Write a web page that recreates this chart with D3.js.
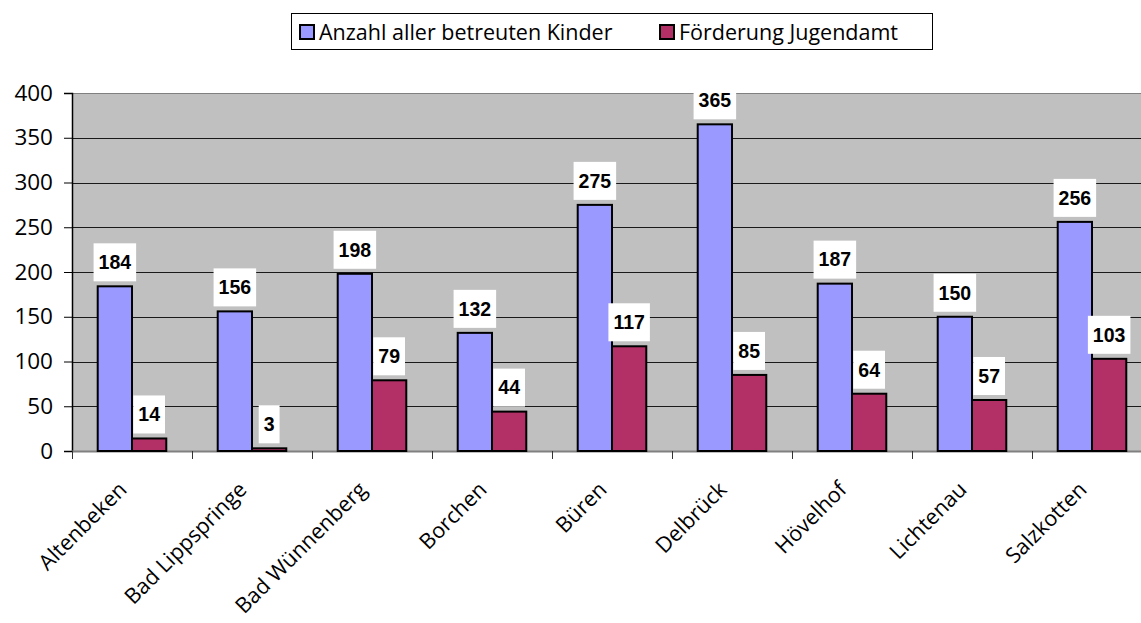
<!DOCTYPE html>
<html>
<head>
<meta charset="utf-8">
<script src="https://cdn.jsdelivr.net/npm/d3@7"></script>
<style>
  body { margin: 0; background: #fff; }
  svg { display: block; }
</style>
</head>
<body>
<div id="chart"></div>
<script>
// data
var categories = ['Altenbeken', 'Bad Lippspringe', 'Bad Wünnenberg', 'Borchen', 'Büren', 'Delbrück', 'Hövelhof', 'Lichtenau', 'Salzkotten']
var seriesNames = ['Anzahl aller betreuten Kinder', 'Förderung Jugendamt']
var kinder = [184, 156, 198, 132, 275, 365, 187, 150, 256]
var jugendamt = [14, 3, 79, 44, 117, 85, 64, 57, 103]
var yTicks = [0, 50, 100, 150, 200, 250, 300, 350, 400]

var COLOR = { BLUE: '#9999FF', RED: '#B33066', PLOT: '#C0C0C0' }
var FONT = '"Open Sans", "Noto Sans", sans-serif'

var width = 1141
var height = 623
var plot = { left: 72, right: 1152, top: 93, bottom: 451 }

var svg = d3
  .select('#chart')
  .append('svg')
  .attr('width', width)
  .attr('height', height)

var x0 = d3.scaleBand().domain(categories).range([plot.left, plot.right])
var x1 = d3
  .scaleBand()
  .domain(seriesNames)
  .range([0, x0.bandwidth()])
  .paddingOuter(0.75)
var y = d3.scaleLinear().domain([0, 400]).range([plot.bottom, plot.top])

// plot background
svg
  .append('rect')
  .attr('x', plot.left)
  .attr('y', plot.top)
  .attr('width', plot.right - plot.left)
  .attr('height', plot.bottom - plot.top)
  .attr('fill', COLOR.PLOT)

// gridlines
svg
  .append('g')
  .selectAll('line')
  .data(yTicks.filter(d => d > 0))
  .enter()
  .append('line')
  .attr('x1', plot.left)
  .attr('x2', plot.right)
  .attr('y1', d => Math.round(y(d)) + 0.5)
  .attr('y2', d => Math.round(y(d)) + 0.5)
  .attr('stroke', d => (d === 400 ? '#808080' : '#1a1a1a'))
  .attr('stroke-width', 1)

// y axis
var yAxis = svg
  .append('g')
  .attr('transform', 'translate(' + plot.left + ',0)')
  .call(d3.axisLeft(y).tickValues(yTicks).tickSize(8).tickPadding(11))
yAxis.select('.domain').attr('stroke', '#000').attr('stroke-width', 1.5)
yAxis.selectAll('.tick line').attr('stroke', '#000')
yAxis
  .selectAll('.tick text')
  .attr('font-family', FONT)
  .attr('font-size', 22.5)
  .attr('fill', '#000')

// x axis line and category ticks
svg
  .append('line')
  .attr('x1', plot.left)
  .attr('x2', plot.right)
  .attr('y1', plot.bottom + 0.5)
  .attr('y2', plot.bottom + 0.5)
  .attr('stroke', '#808080')
  .attr('stroke-width', 2)

svg
  .append('g')
  .selectAll('line')
  .data(categories)
  .enter()
  .append('line')
  .attr('x1', d => x0(d) + 0.5)
  .attr('x2', d => x0(d) + 0.5)
  .attr('y1', plot.bottom)
  .attr('y2', plot.bottom + 8)
  .attr('stroke', '#333')

// bars
var rows = categories.map((c, i) => ({ cat: c, values: [kinder[i], jugendamt[i]] }))

var groups = svg
  .append('g')
  .selectAll('g')
  .data(rows)
  .enter()
  .append('g')
  .attr('transform', d => 'translate(' + x0(d.cat) + ',0)')

groups
  .selectAll('rect')
  .data(d => d.values.map((v, j) => ({ key: seriesNames[j], value: v, j: j })))
  .enter()
  .append('rect')
  .attr('x', d => x1(d.key))
  .attr('y', d => y(d.value))
  .attr('width', x1.bandwidth())
  .attr('height', d => y(0) - y(d.value))
  .attr('fill', d => (d.j === 0 ? COLOR.BLUE : COLOR.RED))
  .attr('stroke', '#000')
  .attr('stroke-width', 2)

// data labels with white boxes
svg
  .append('clipPath')
  .attr('id', 'label-clip')
  .append('rect')
  .attr('x', 0)
  .attr('y', 90)
  .attr('width', width)
  .attr('height', height)

var labels = groups
  .selectAll('.data-label')
  .data(d => d.values.map((v, j) => ({ key: seriesNames[j], value: v })))
  .enter()
  .append('g')
  .attr('class', 'data-label')
  .attr('clip-path', 'url(#label-clip)')

labels.append('rect').attr('fill', '#fff')

labels
  .append('text')
  .attr('x', d => x1(d.key) + x1.bandwidth() / 2)
  .attr('y', d => y(d.value) - 24)
  .attr('dy', '0.35em')
  .attr('text-anchor', 'middle')
  .attr('font-family', 'Arial, "Liberation Sans", sans-serif')
  .attr('font-weight', 'bold')
  .attr('font-size', 19.5)
  .text(d => d.value)

labels.each(function (d) {
  var g = d3.select(this)
  var w = g.select('text').node().getComputedTextLength() + 10
  g.select('rect')
    .attr('x', x1(d.key) + x1.bandwidth() / 2 - w / 2)
    .attr('y', y(d.value) - 43)
    .attr('width', w)
    .attr('height', 38)
})

// category labels
var labelY = 491
svg
  .append('g')
  .selectAll('text')
  .data(categories)
  .enter()
  .append('text')
  .attr('x', d => x0(d) + x0.bandwidth() / 2 - 4)
  .attr('y', labelY)
  .attr('transform', d => 'rotate(-45,' + (x0(d) + x0.bandwidth() / 2 - 4) + ',' + labelY + ')')
  .attr('text-anchor', 'end')
  .attr('font-family', FONT)
  .attr('font-size', 21.5)
  .text(d => d)

// legend
var legend = svg.append('g')
legend
  .append('rect')
  .attr('x', 291.5)
  .attr('y', 13.5)
  .attr('width', 641)
  .attr('height', 36)
  .attr('fill', '#fff')
  .attr('stroke', '#000')
  .attr('stroke-width', 1)

var legendX = [300, 660]
var legendItems = legend
  .selectAll('.legend-item')
  .data(seriesNames)
  .enter()
  .append('g')
  .attr('class', 'legend-item')
  .attr('transform', (d, i) => 'translate(' + legendX[i] + ',0)')

legendItems
  .append('rect')
  .attr('x', 0)
  .attr('y', 25)
  .attr('width', 14)
  .attr('height', 14)
  .attr('fill', (d, i) => (i === 0 ? COLOR.BLUE : COLOR.RED))
  .attr('stroke', '#000')
  .attr('stroke-width', 2)

legendItems
  .append('text')
  .attr('x', 19)
  .attr('y', 40)
  .attr('font-family', FONT)
  .attr('font-size', 21.5)
  .text(d => d)
</script>
</body>
</html>
